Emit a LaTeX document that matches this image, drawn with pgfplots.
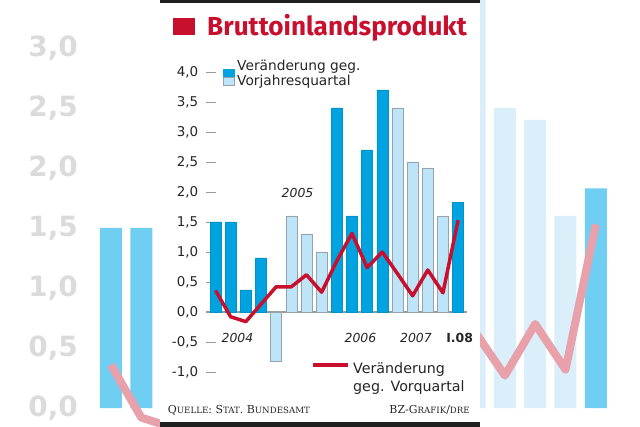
\documentclass[border=0pt]{standalone}
\usepackage{pgfplots}
\pgfplotsset{compat=1.18}
\usepackage{fontspec}
\setmainfont{DejaVu Sans}
\newfontfamily\titlefont{Fira Sans}
\newfontfamily\srcfont{DejaVu Serif}
\definecolor{bzdark}{RGB}{0,163,224}
\definecolor{bzlight}{RGB}{190,228,247}
\definecolor{bzedge}{RGB}{150,162,172}
\definecolor{bzred}{RGB}{200,16,46}
\definecolor{bgdark}{RGB}{112,206,242}
\definecolor{bglight}{RGB}{218,239,249}
\definecolor{bgred}{RGB}{232,160,170}
\newcommand\sC[2]{{\fontsize{11}{11}\selectfont #1}{\fontsize{8.7}{8.7}\selectfont #2}}
\pgfplotsset{
  /pgf/number format/use comma,
  /pgf/number format/fixed,
  /pgf/number format/fixed zerofill,
  /pgf/number format/precision=1,
  /pgf/number format/assume math mode=true,
}
\pgfplotstableread{
x y
0 1.5
1 1.5
2 0.37
3 0.9
8 3.4
9 1.6
10 2.7
11 3.7
16 1.83
}\darkbars
\pgfplotstableread{
x y
4 -0.82
5 1.6
6 1.3
7 1.0
12 3.4
13 2.5
14 2.4
15 1.6
}\lightbars
\pgfplotstableread{
x y
0 0.36
1 -0.08
2 -0.16
3 0.13
4 0.42
5 0.42
6 0.62
7 0.33
8 0.85
9 1.31
10 0.74
11 1.0
12 0.64
13 0.27
14 0.7
15 0.32
16 1.53
}\redline
\begin{document}
\begin{tikzpicture}
\useasboundingbox (0bp,0bp) rectangle (640bp,427bp);
% blurred background (enlarged copy of the chart)
\begin{axis}[at={(0bp,0bp)}, anchor=south west, width=640bp, height=427bp, scale only axis,
  xmin=-3.663, xmax=17.459, ymin=-0.1583, ymax=3.4, clip=false,
  axis line style={draw=none}, xtick=\empty, ytick={0,0.5,...,3},
  ytick pos=left, major tick length=0pt,
  yticklabel style={anchor=east, xshift=78bp, inner sep=0pt, text=black!14,
    font=\bfseries\fontsize{28}{28}\selectfont}]
\addplot[ybar, bar width=22bp, bar shift=0pt, fill=bgdark, draw=none] table {\darkbars};
\addplot[ybar, bar width=22bp, bar shift=0pt, fill=bglight, draw=none] table {\lightbars};
\addplot[bgred, line width=8bp, line join=round] table {\redline};
\end{axis}
\begin{scope}[x=1bp,y=1bp]
% white panel
\fill[white] (160,0) rectangle (480,427);
\fill[black!88] (160,427) rectangle (480,427-3.3);
\fill[black!88] (160,0) rectangle (480,5);
% title
\fill[bzred] (173,427-35) rectangle (195,427-18);
\node[anchor=base west, inner sep=0, text=bzred, font=\titlefont\bfseries\fontsize{26.2}{26.2}\selectfont] at (207,427-35.5) {Bruttoinlandsprodukt};
\end{scope}
% main axis
\begin{axis}[at={(206.4bp,55bp)}, anchor=south west, width=260.8bp, height=300bp, scale only axis,
  xmin=-0.6, xmax=16.6, ymin=-1, ymax=4, clip=false,
  axis line style={draw=none}, xtick=\empty, ytick={-1,-0.5,...,4}, ytick pos=left,
  tick align=inside, major tick length=10bp, tick style={black!40, line width=0.8bp},
  yticklabel style={anchor=east, inner sep=0pt, xshift=-8bp, text=black!85,
    font=\fontsize{13.5}{13.5}\selectfont}]
\draw[black!40, line width=1.2bp] (axis cs:-0.6,0) -- (axis cs:16.6,0);
\addplot[ybar, bar width=11bp, bar shift=0pt, fill=bzdark, draw=bzdark!90!black, line width=0.3bp] table {\darkbars};
\addplot[ybar, bar width=11bp, bar shift=0pt, fill=bzlight, draw=bzedge, line width=0.6bp] table {\lightbars};
\addplot[bzred, line width=3.5bp, line join=round] table {\redline};
\node[font=\itshape\fontsize{12.5}{12.5}\selectfont, text=black!85] at (axis cs:1.45,-0.43) {2004};
\node[font=\itshape\fontsize{12.5}{12.5}\selectfont, text=black!85] at (axis cs:5.41,1.98) {2005};
\node[font=\itshape\fontsize{12.5}{12.5}\selectfont, text=black!85] at (axis cs:9.56,-0.43) {2006};
\node[font=\itshape\fontsize{12.5}{12.5}\selectfont, text=black!85] at (axis cs:13.22,-0.43) {2007};
\node[font=\bfseries\fontsize{12.5}{12.5}\selectfont, text=black!85] at (axis cs:16.1,-0.43) {I.08};
\end{axis}
\begin{scope}[x=1bp,y=1bp]
% top legend
\fill[bzdark] (223,427-77) rectangle (235,427-69);
\filldraw[fill=bzlight, draw=bzedge, line width=0.5bp] (223.3,427-85.5) rectangle (234.7,427-77);
\node[anchor=base west, inner sep=0, text=black!85, font=\fontsize{13.8}{13.8}\selectfont] at (237,427-70.8) {Veränderung geg.};
\node[anchor=base west, inner sep=0, text=black!85, font=\fontsize{13.8}{13.8}\selectfont] at (237,427-85) {Vorjahresquartal};
% bottom legend
\draw[bzred, line width=3.5bp] (313,427-365) -- (348,427-365);
\node[anchor=base west, inner sep=0, text=black!85, font=\fontsize{14.3}{14.3}\selectfont] at (353,427-373.3) {Veränderung};
\node[anchor=base west, inner sep=0, text=black!85, font=\fontsize{14.3}{14.3}\selectfont] at (353,427-391.7) {geg. Vorquartal};
% source
\node[anchor=base west, inner sep=0, text=black!85, font=\srcfont\fontsize{11}{11}\selectfont] at (167.7,427-413.3) {\sC{Q}{UELLE}: \sC{S}{TAT}. \sC{B}{UNDESAMT}};
\node[anchor=base east, inner sep=0, text=black!85, font=\srcfont\fontsize{11}{11}\selectfont] at (470,427-413.3) {\sC{BZ-G}{RAFIK}/\sC{}{DRE}};
\end{scope}
\end{tikzpicture}
\end{document}
